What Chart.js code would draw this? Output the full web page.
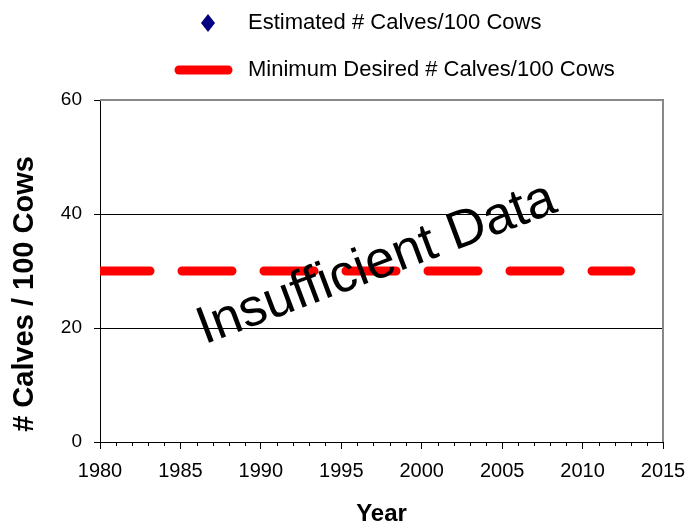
<!DOCTYPE html>
<html>
<head>
<meta charset="utf-8">
<script src="https://cdn.jsdelivr.net/npm/chart.js@4/dist/chart.umd.min.js"></script>
<style>
  html, body { margin: 0; padding: 0; background: #fff; }
  #wrap { width: 699px; height: 527px; position: relative; }
</style>
</head>
<body>
<div id="wrap"><canvas id="calf-chart"></canvas></div>
<script>
// ====== DATA ======
const estimatedYears = [];          // no survey estimates available
const estimatedCalves = [];
const minimumYears = [1980, 2013];
const minimumCalves = [30, 30];
const yTickValues = [0, 20, 40, 60];
const xMin = 1980;
const xMax = 2015;
const seriesLabels = ['Estimated # Calves/100 Cows', 'Minimum Desired # Calves/100 Cows'];
const FONT = "'Liberation Sans', Arial, sans-serif";

const canvas = document.getElementById('calf-chart');

// ====== PLUGINS ======
const decorPlugin = {
  id: 'decor',
  afterDatasetsDraw(chart) {
    const ctx = chart.ctx;
    const xs = chart.scales.x, ys = chart.scales.y;
    // big rotated note
    ctx.save();
    ctx.translate(xs.getPixelForValue(1997.2), ys.getPixelForValue(31.2));
    ctx.rotate(-0.36);
    ctx.font = '53px ' + FONT;
    ctx.fillStyle = '#000';
    ctx.textAlign = 'center';
    ctx.textBaseline = 'middle';
    ctx.fillText('Insufficient Data', 0, 0);
    ctx.restore();
  },
  afterDraw(chart) {
    const ctx = chart.ctx;
    const area = chart.chartArea;
    const xs = chart.scales.x;

    // gray top and right frame
    ctx.save();
    ctx.strokeStyle = '#888';
    ctx.lineWidth = 2;
    ctx.beginPath();
    ctx.moveTo(area.left, area.top);
    ctx.lineTo(area.right, area.top);
    ctx.lineTo(area.right, area.bottom);
    ctx.stroke();

    // minor year ticks
    ctx.strokeStyle = '#000';
    ctx.lineWidth = 1;
    ctx.beginPath();
    for (let yr = xMin; yr <= xMax; yr++) {
      if (yr % 5 === 0) continue;
      const px = Math.round(xs.getPixelForValue(yr)) + 0.5;
      ctx.moveTo(px, area.bottom);
      ctx.lineTo(px, area.bottom + 4);
    }
    ctx.stroke();

    // y axis title
    ctx.translate(25, 294);
    ctx.rotate(-Math.PI / 2);
    ctx.font = 'bold 29px ' + FONT;
    ctx.fillStyle = '#000';
    ctx.textAlign = 'center';
    ctx.textBaseline = 'middle';
    ctx.fillText('# Calves / 100 Cows', 0, 0);
    ctx.restore();

    // legend
    const ds = chart.data.datasets;
    ctx.save();
    ctx.font = '22px ' + FONT;
    ctx.fillStyle = '#000';
    ctx.textBaseline = 'middle';
    ctx.textAlign = 'left';

    ctx.fillStyle = ds[0].backgroundColor;
    ctx.beginPath();
    ctx.moveTo(208, 14);
    ctx.lineTo(215, 23);
    ctx.lineTo(208, 32);
    ctx.lineTo(201, 23);
    ctx.closePath();
    ctx.fill();
    ctx.fillStyle = '#000';
    ctx.fillText(ds[0].label, 248, 23);

    ctx.strokeStyle = ds[1].borderColor;
    ctx.lineWidth = ds[1].borderWidth;
    ctx.lineCap = 'round';
    ctx.beginPath();
    ctx.moveTo(179, 70);
    ctx.lineTo(228, 70);
    ctx.stroke();
    ctx.fillText(ds[1].label, 248, 70);
    ctx.restore();
  }
};

// ====== CHART ======
const calfChart = new Chart(canvas.getContext('2d'), {
  type: 'line',
  data: {
    datasets: [
      {
        label: seriesLabels[0],
        data: estimatedYears.map((yr, i) => ({ x: yr, y: estimatedCalves[i] })),
        showLine: false,
        pointStyle: 'rectRot',
        pointRadius: 7,
        backgroundColor: '#000080',
        borderColor: '#000080'
      },
      {
        label: seriesLabels[1],
        data: minimumYears.map((yr, i) => ({ x: yr, y: minimumCalves[i] })),
        borderColor: '#ff0000',
        backgroundColor: '#ff0000',
        borderWidth: 9,
        borderDash: [50, 32],
        borderCapStyle: 'round',
        pointRadius: 0,
        clip: 0
      }
    ]
  },
  options: {
    responsive: true,
    maintainAspectRatio: false,
    animation: false,
    layout: { padding: { top: 100, right: 36, left: 0, bottom: 0 } },
    plugins: {
      legend: { display: false },
      tooltip: { enabled: false }
    },
    scales: {
      x: {
        type: 'linear',
        min: xMin,
        max: xMax,
        afterFit: (s) => { s.height = 85; },
        ticks: {
          stepSize: 5,
          color: '#000',
          padding: 10,
          maxRotation: 0,
          font: { family: FONT, size: 20 },
          callback: (v) => String(v)
        },
        grid: { drawOnChartArea: false, tickLength: 7, color: '#000' },
        border: { color: '#000', width: 1 },
        title: {
          display: true,
          text: 'Year',
          color: '#000',
          font: { family: FONT, size: 24, weight: 'bold' },
          padding: { top: 0, bottom: -2 }
        }
      },
      y: {
        min: 0,
        max: 60,
        afterFit: (s) => { s.width = 100; },
        afterBuildTicks: (s) => { s.ticks = yTickValues.map(v => ({ value: v })); },
        ticks: {
          color: '#000',
          padding: 12,
          font: { family: FONT, size: 19 }
        },
        grid: { color: '#000', lineWidth: 1, tickLength: 6 },
        border: { color: '#000', width: 1 }
      }
    }
  },
  plugins: [decorPlugin]
});
</script>
</body>
</html>
